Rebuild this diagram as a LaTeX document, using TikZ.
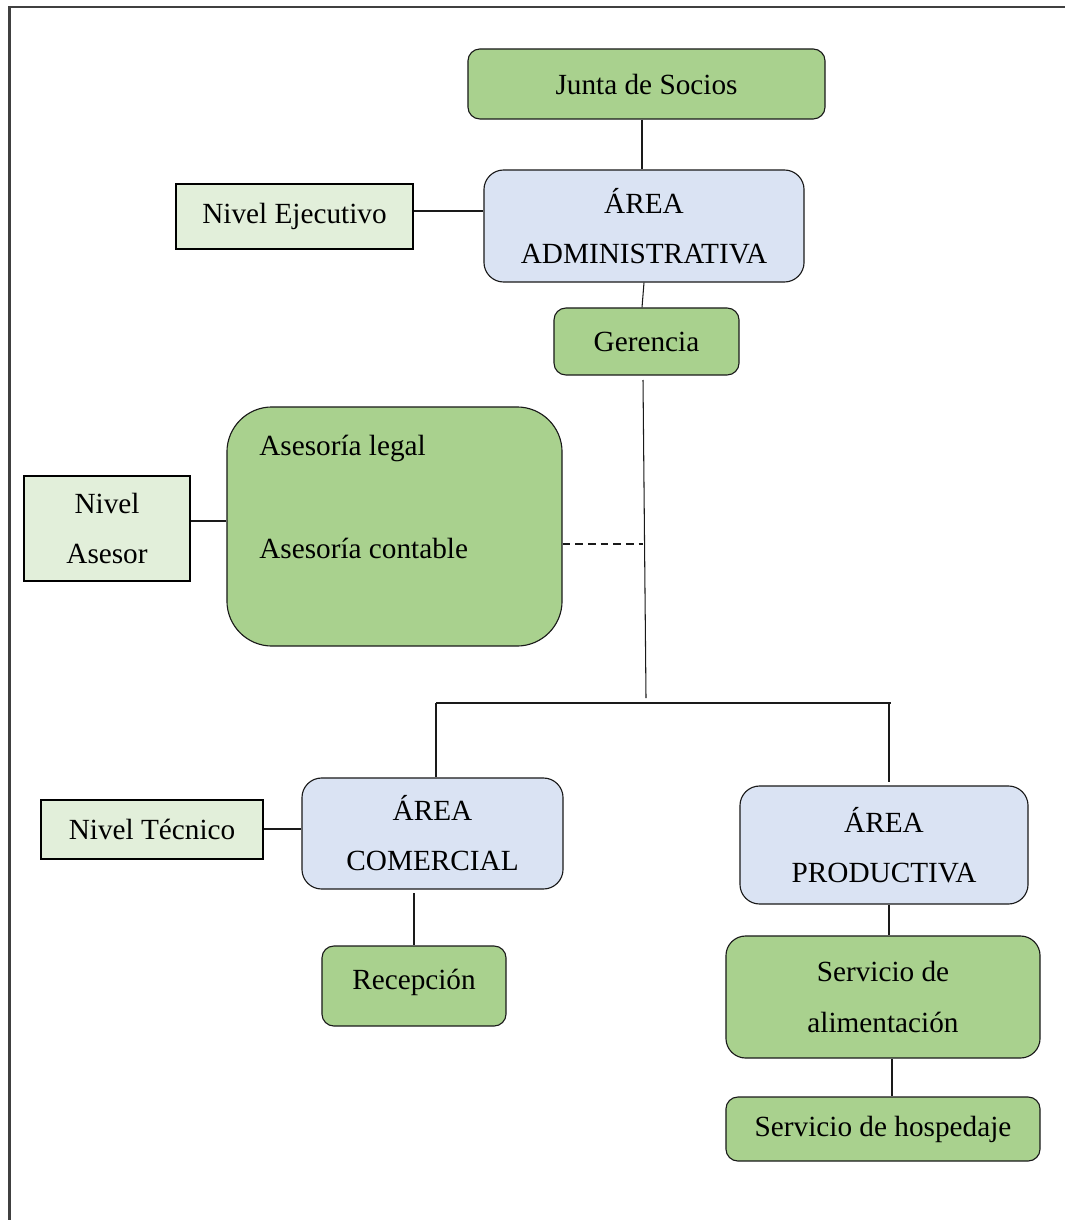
\documentclass[tikz,border=0pt]{standalone}
\usepackage{fontspec}
\setmainfont{Liberation Serif}
\definecolor{boxgreen}{HTML}{A9D18E}
\definecolor{boxblue}{HTML}{DAE3F3}
\definecolor{lvlgreen}{HTML}{E2EFDA}
\definecolor{framegray}{HTML}{404040}
\definecolor{edge}{HTML}{1A1A1A}
\begin{document}
\begin{tikzpicture}[x=0.025cm,y=-0.025cm,
  every node/.style={font=\fontsize{20.8}{35.6}\selectfont, inner sep=0pt, align=center},
  greenbox/.style={draw=edge, line width=0.8pt, fill=boxgreen, rounded corners=8.5pt},
  bluebox/.style={draw=edge, line width=0.8pt, fill=boxblue, rounded corners=14pt},
  lvlbox/.style={draw=black, line width=1.8pt, fill=lvlgreen},
  conn/.style={draw=edge, line width=0.75pt},
  dashconn/.style={conn, dash pattern=on 5.5pt off 3.5pt}]
\useasboundingbox (0,0) rectangle (1064,1220);
% outer frame (only top and left edges visible)
\draw[framegray, line width=1.5pt] (9.5,1230) -- (9.5,7) -- (1075,7);

% boxes
\node[greenbox, minimum width=8.925cm, minimum height=1.75cm] (junta) at (646.5,84) {Junta de Socios};
\node[bluebox, minimum width=8.0cm, minimum height=2.8cm] (aa) at (644,226) {ÁREA\\ADMINISTRATIVA};
\node[greenbox, minimum width=4.625cm, minimum height=1.675cm] (ger) at (646.5,341.5) {Gerencia};
\node[lvlbox, minimum width=5.925cm, minimum height=1.625cm] (nej) at (294.5,216.5) {Nivel Ejecutivo};
\node[greenbox, rounded corners=32pt, minimum width=8.375cm, minimum height=5.975cm] (ase) at (394.5,526.5) {};
\node[anchor=west] (ase1) at (259,448) {Asesoría legal};
\node[anchor=west] (ase2) at (259,548) {Asesoría contable};
\node[lvlbox, minimum width=4.15cm, minimum height=2.625cm] (nas) at (107,528.5) {Nivel\\Asesor};
\node[lvlbox, minimum width=5.55cm, minimum height=1.475cm] (ntec) at (152,829.5) {Nivel Técnico};
\node[bluebox, minimum width=6.525cm, minimum height=2.775cm] (com) at (432.5,833.5) {ÁREA\\COMERCIAL};
\node[greenbox, minimum width=4.6cm, minimum height=2.0cm, text depth=0.35cm] (rec) at (414,986) {Recepción};
\node[bluebox, minimum width=7.2cm, minimum height=2.95cm] (prod) at (884,845) {ÁREA\\PRODUCTIVA};
\node[greenbox, rounded corners=14pt, minimum width=7.85cm, minimum height=3.05cm] (ali) at (883,997) {Servicio de\\alimentación};
\node[greenbox, minimum width=7.85cm, minimum height=1.6cm] (hos) at (883,1129) {Servicio de hospedaje};

% helper coordinates
\coordinate (xa) at (642,0);
\coordinate (xb) at (644,0);
\coordinate (trunktop) at (643,380);
\coordinate (trunkbot) at (646,698);
\coordinate (busL) at (436,703);
\coordinate (busR) at (891,703);
\coordinate (dropR) at (889,703);
\coordinate (dropRend) at (889,782);
\coordinate (yej) at (0,211);
\coordinate (yas) at (0,521);
\coordinate (ydash) at (0,544);
\coordinate (dashend) at (643,544);
\coordinate (ytec) at (0,829);
\coordinate (xrec) at (414,893);
\coordinate (xprod) at (889,0);
\coordinate (xhos) at (892,0);

% connectors
\draw[conn] (junta.south -| xa) -- (aa.north -| xa);
\draw[conn] (aa.south -| xb) -- (ger.north -| xa);
\draw[conn] (trunktop) -- (trunkbot);
\draw[conn] (busL) -- (busR);
\draw[conn] (busL) -- (com.north -| busL);
\draw[conn] (dropR) -- (dropRend);
\draw[conn] (nej.east |- yej) -- (aa.west |- yej);
\draw[conn] (nas.east |- yas) -- (ase.west |- yas);
\draw[dashconn] (ase.east |- ydash) -- (dashend);
\draw[conn] (ntec.east |- ytec) -- (com.west |- ytec);
\draw[conn] (xrec) -- (rec.north -| xrec);
\draw[conn] (prod.south -| xprod) -- (ali.north -| xprod);
\draw[conn] (ali.south -| xhos) -- (hos.north -| xhos);
\end{tikzpicture}
\end{document}
